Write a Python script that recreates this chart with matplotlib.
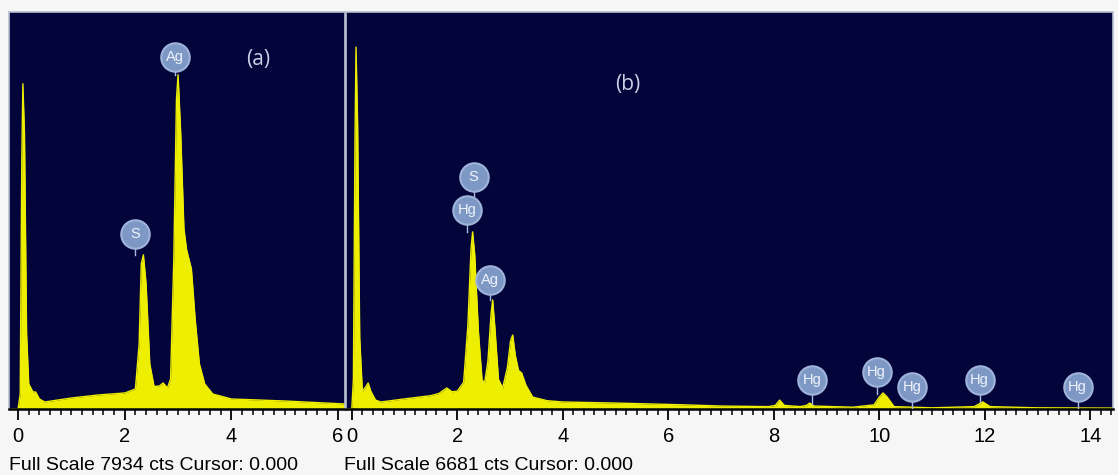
import matplotlib.pyplot as plt
from matplotlib.ticker import MultipleLocator

# spectrum (a): energy in keV, counts
energy_a = [-0.17, 0.00, 0.04, 0.07, 0.09, 0.12, 0.16, 0.20, 0.28, 0.33, 0.40, 0.50,
            1.0, 1.5, 2.0, 2.2, 2.27, 2.31, 2.35, 2.40, 2.47, 2.55, 2.65, 2.72, 2.8,
            2.86, 2.92, 2.97, 3.00, 3.05, 3.11, 3.16, 3.25, 3.32, 3.40, 3.50, 3.65,
            4.0, 5.0, 6.13]
counts_a = [0, 0, 300, 5000, 6500, 5500, 1500, 500, 340, 340, 200, 140,
            220, 280, 320, 400, 1300, 2900, 3080, 2500, 900, 450, 460, 520, 420,
            600, 3000, 6200, 6680, 5500, 3600, 3180, 2800, 1800, 900, 500, 300,
            200, 160, 100]

# spectrum (b)
energy_b = [-0.11, 0.00, 0.03, 0.06, 0.08, 0.11, 0.15, 0.20, 0.27, 0.31, 0.36, 0.45,
            0.55, 1.0, 1.5, 1.65, 1.8, 1.9, 2.0, 2.12, 2.2, 2.26, 2.29, 2.33, 2.40,
            2.47, 2.52, 2.58, 2.64, 2.67, 2.71, 2.78, 2.86, 2.95, 3.01, 3.05, 3.10,
            3.16, 3.22, 3.30, 3.43, 3.7, 4.0, 5.0, 6.3, 7.0, 7.9, 8.03, 8.11, 8.2,
            8.5, 8.62, 8.68, 8.76, 9.5, 9.9, 10.0, 10.07, 10.15, 10.28, 11.0, 11.8,
            11.96, 12.1, 13.0, 14.43]
counts_b = [0, 0, 500, 4500, 6090, 4800, 1200, 300, 380, 437, 300, 150,
            118, 170, 225, 260, 353, 290, 300, 450, 1400, 2700, 2980, 2600, 1300,
            480, 454, 800, 1600, 1834, 1400, 500, 353, 700, 1150, 1245, 900,
            650, 606, 400, 200, 140, 118, 100, 70, 50, 40, 60, 150, 60,
            40, 60, 100, 50, 30, 70, 200, 270, 200, 40, 20, 40,
            120, 40, 20, 15]

full_scale_a = 7934
full_scale_b = 6681

# element markers: name, energy, marker height, stem end
labels_a = ['Ag', 'S']
label_e_a = [2.95, 2.19]
label_y_a = [7040, 3500]
stem_y_a = [6680, 3080]

labels_b = ['S', 'Hg', 'Ag', 'Hg', 'Hg', 'Hg', 'Hg', 'Hg']
label_e_b = [2.31, 2.18, 2.62, 8.72, 9.95, 10.62, 11.90, 13.76]
label_y_b = [3905, 3350, 2171, 488, 623, 370, 488, 370]
stem_y_b = [3350, 2980, 1834, 90, 260, 20, 110, 20]

BG = '#03043a'
YELLOW = '#eeee00'
BUBBLE = '#7d98c4'

fig = plt.figure(figsize=(11.18, 4.75), dpi=100, facecolor='#f6f6f6')
plt.rcParams['font.family'] = ['Liberation Sans', 'DejaVu Sans']

W, H = 1118, 475
ax_a = fig.add_axes([9 / W, 66 / H, 336 / W, 397 / H])
ax_b = fig.add_axes([346 / W, 66 / H, 767 / W, 397 / H])


def draw_panel(ax, energy, counts, full_scale, xlim, names, le, ly, sy, tag, tag_pos):
    ax.set_facecolor(BG)
    ax.fill_between(energy, counts, 0, color=YELLOW, lw=0, zorder=2)
    ax.plot(energy, counts, color=YELLOW, lw=1, zorder=2)
    ax.set_xlim(*xlim)
    ax.set_ylim(0, full_scale)
    ax.set_yticks([])
    ax.xaxis.set_major_locator(MultipleLocator(2))
    ax.xaxis.set_minor_locator(MultipleLocator(0.2))
    ax.tick_params(axis='x', which='major', direction='out', length=8, width=1.3,
                   labelsize=14.5, pad=5, color='black')
    ax.tick_params(axis='x', which='minor', direction='out', length=4, width=1.1,
                   color='black')
    for side in ['top', 'left', 'right']:
        ax.spines[side].set_color('#b8c0d0')
        ax.spines[side].set_linewidth(1.2)
    ax.spines['bottom'].set_color('black')
    ax.spines['bottom'].set_linewidth(1.8)

    for name, e, y, s in zip(names, le, ly, sy):
        ax.plot([e, e], [s, y], color='#a8bce0', lw=1, zorder=3)
        ax.scatter([e], [y], s=420, color=BUBBLE, edgecolors='#9fb4d8',
                   linewidths=1.5, zorder=4)
        ax.text(e, y, name, ha='center', va='center', fontsize=10.5,
                color='#eef2fa', zorder=5)

    ax.text(tag_pos[0], tag_pos[1], tag, ha='center', va='center',
            fontsize=15, color='#c8d2e6', family=['Open Sans', 'DejaVu Sans'])


draw_panel(ax_a, energy_a, counts_a, full_scale_a, (-0.17, 6.13),
           labels_a, label_e_a, label_y_a, stem_y_a, '(a)', (4.51, 6980))
draw_panel(ax_b, energy_b, counts_b, full_scale_b, (-0.11, 14.43),
           labels_b, label_e_b, label_y_b, stem_y_b, '(b)', (5.23, 5453))

ax_a.set_xticks([0, 2, 4, 6])
ax_b.set_xticks([0, 2, 4, 6, 8, 10, 12, 14])

fig.text(9 / W, 1 - 465 / H, 'Full Scale %d cts Cursor: 0.000' % full_scale_a,
         fontsize=14, va='center', ha='left', color='black')
fig.text(344 / W, 1 - 465 / H, 'Full Scale %d cts Cursor: 0.000' % full_scale_b,
         fontsize=14, va='center', ha='left', color='black')

fig.savefig('out.png', dpi=100, facecolor=fig.get_facecolor())
